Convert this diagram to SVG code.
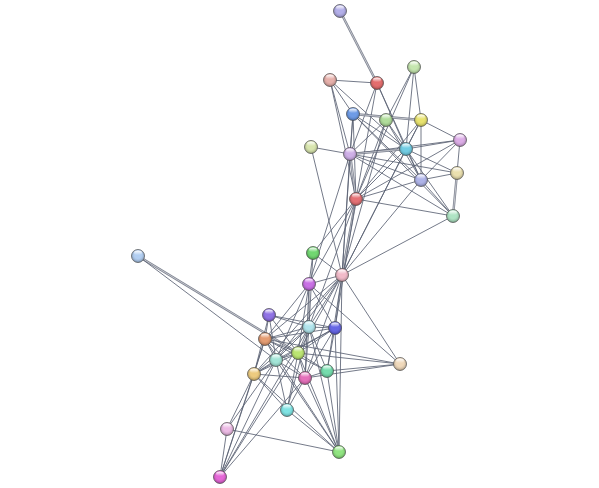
<svg xmlns="http://www.w3.org/2000/svg" xmlns:xlink="http://www.w3.org/1999/xlink" width="599" height="488" viewBox="0 0 599 488">
<style>
.e{stroke:#5c6374;stroke-width:1;stroke-opacity:0.85;fill:none}
.d{stroke:#5c6374;stroke-width:2.4;stroke-opacity:0.8;fill:none}
.di{stroke:#ffffff;stroke-width:0.6;stroke-opacity:0.9;fill:none}
</style>
<defs>
<radialGradient id="shade" cx="0.5" cy="0.42" r="0.58">
<stop offset="0.45" stop-color="#ffffff" stop-opacity="0.12"/>
<stop offset="1" stop-color="#000000" stop-opacity="0.3"/>
</radialGradient>
<linearGradient id="hl" x1="0" y1="0" x2="0" y2="1">
<stop offset="0" stop-color="#ffffff" stop-opacity="0.95"/>
<stop offset="1" stop-color="#ffffff" stop-opacity="0"/>
</linearGradient>
<g id="gloss">
<circle r="6.5" fill="url(#shade)" stroke="#4a4a4a" stroke-width="0.7"/>
<ellipse cy="-3.2" rx="4" ry="2.3" fill="url(#hl)"/>
</g>
</defs>
<rect width="599" height="488" fill="#ffffff"/>
<g id="connectors">
<path class="d" d="M340,11L377,83"/><path class="di" d="M340,11L377,83"/>
<line class="e" x1="330" y1="80" x2="377" y2="83"/>
<line class="e" x1="330" y1="80" x2="353" y2="114"/>
<line class="e" x1="330" y1="80" x2="350" y2="154"/>
<line class="e" x1="330" y1="80" x2="356" y2="199"/>
<line class="e" x1="330" y1="80" x2="406" y2="149"/>
<line class="e" x1="377" y1="83" x2="356" y2="199"/>
<line class="e" x1="377" y1="83" x2="406" y2="149"/>
<line class="e" x1="377" y1="83" x2="421" y2="180"/>
<line class="e" x1="377" y1="83" x2="350" y2="154"/>
<line class="e" x1="414" y1="67" x2="386" y2="120"/>
<line class="e" x1="414" y1="67" x2="421" y2="120"/>
<line class="e" x1="414" y1="67" x2="406" y2="149"/>
<line class="e" x1="414" y1="67" x2="356" y2="199"/>
<line class="d" x1="353" y1="114" x2="421" y2="120"/>
<line class="di" x1="353" y1="114" x2="421" y2="120"/>
<line class="e" x1="353" y1="114" x2="406" y2="149"/>
<line class="e" x1="353" y1="114" x2="350" y2="154"/>
<line class="e" x1="353" y1="114" x2="356" y2="199"/>
<line class="e" x1="353" y1="114" x2="453" y2="216"/>
<line class="e" x1="353" y1="114" x2="421" y2="180"/>
<line class="e" x1="386" y1="120" x2="406" y2="149"/>
<line class="e" x1="386" y1="120" x2="356" y2="199"/>
<line class="e" x1="386" y1="120" x2="421" y2="180"/>
<line class="e" x1="386" y1="120" x2="350" y2="154"/>
<line class="e" x1="421" y1="120" x2="406" y2="149"/>
<line class="e" x1="421" y1="120" x2="421" y2="180"/>
<line class="e" x1="421" y1="120" x2="356" y2="199"/>
<line class="e" x1="421" y1="120" x2="460" y2="140"/>
<line class="e" x1="460" y1="140" x2="406" y2="149"/>
<line class="e" x1="460" y1="140" x2="350" y2="154"/>
<line class="e" x1="460" y1="140" x2="421" y2="180"/>
<line class="e" x1="460" y1="140" x2="457" y2="173"/>
<line class="e" x1="460" y1="140" x2="356" y2="199"/>
<line class="e" x1="311" y1="147" x2="350" y2="154"/>
<line class="e" x1="311" y1="147" x2="342" y2="275"/>
<line class="d" x1="350" y1="154" x2="406" y2="149"/>
<line class="di" x1="350" y1="154" x2="406" y2="149"/>
<line class="e" x1="350" y1="154" x2="457" y2="173"/>
<line class="d" x1="350" y1="154" x2="356" y2="199"/>
<line class="di" x1="350" y1="154" x2="356" y2="199"/>
<line class="e" x1="350" y1="154" x2="453" y2="216"/>
<line class="e" x1="350" y1="154" x2="421" y2="180"/>
<line class="e" x1="406" y1="149" x2="421" y2="180"/>
<line class="e" x1="406" y1="149" x2="356" y2="199"/>
<line class="e" x1="406" y1="149" x2="457" y2="173"/>
<line class="e" x1="406" y1="149" x2="453" y2="216"/>
<line class="d" x1="457" y1="173" x2="453" y2="216"/>
<line class="di" x1="457" y1="173" x2="453" y2="216"/>
<line class="e" x1="457" y1="173" x2="421" y2="180"/>
<line class="e" x1="421" y1="180" x2="453" y2="216"/>
<line class="e" x1="421" y1="180" x2="356" y2="199"/>
<line class="e" x1="356" y1="199" x2="453" y2="216"/>
<line class="d" x1="342" y1="275" x2="356" y2="199"/>
<line class="di" x1="342" y1="275" x2="356" y2="199"/>
<line class="e" x1="342" y1="275" x2="350" y2="154"/>
<line class="e" x1="342" y1="275" x2="353" y2="114"/>
<line class="e" x1="342" y1="275" x2="386" y2="120"/>
<line class="e" x1="342" y1="275" x2="406" y2="149"/>
<line class="e" x1="342" y1="275" x2="421" y2="180"/>
<line class="e" x1="342" y1="275" x2="453" y2="216"/>
<line class="e" x1="342" y1="275" x2="421" y2="120"/>
<line class="e" x1="313" y1="253" x2="356" y2="199"/>
<line class="e" x1="309" y1="284" x2="356" y2="199"/>
<line class="e" x1="309" y1="284" x2="350" y2="154"/>
<line class="e" x1="309" y1="327" x2="356" y2="199"/>
<line class="e" x1="335" y1="328" x2="356" y2="199"/>
<line class="e" x1="313" y1="253" x2="309" y2="284"/>
<line class="e" x1="313" y1="253" x2="342" y2="275"/>
<line class="e" x1="313" y1="253" x2="309" y2="327"/>
<line class="e" x1="342" y1="275" x2="309" y2="284"/>
<line class="e" x1="342" y1="275" x2="309" y2="327"/>
<line class="e" x1="342" y1="275" x2="335" y2="328"/>
<line class="e" x1="342" y1="275" x2="265" y2="339"/>
<line class="e" x1="342" y1="275" x2="298" y2="353"/>
<line class="e" x1="342" y1="275" x2="276" y2="360"/>
<line class="e" x1="342" y1="275" x2="254" y2="374"/>
<line class="e" x1="342" y1="275" x2="305" y2="378"/>
<line class="e" x1="342" y1="275" x2="327" y2="371"/>
<line class="e" x1="342" y1="275" x2="400" y2="364"/>
<line class="e" x1="342" y1="275" x2="339" y2="452"/>
<line class="e" x1="309" y1="284" x2="309" y2="327"/>
<line class="e" x1="309" y1="284" x2="335" y2="328"/>
<line class="e" x1="309" y1="284" x2="265" y2="339"/>
<line class="e" x1="309" y1="284" x2="298" y2="353"/>
<line class="e" x1="309" y1="284" x2="276" y2="360"/>
<line class="e" x1="309" y1="284" x2="305" y2="378"/>
<line class="e" x1="309" y1="284" x2="400" y2="364"/>
<path class="d" d="M138,256L298,353"/><path class="di" d="M138,256L298,353"/>
<line class="e" x1="138" y1="256" x2="276" y2="360"/>
<line class="e" x1="269" y1="315" x2="265" y2="339"/>
<line class="e" x1="269" y1="315" x2="309" y2="327"/>
<line class="e" x1="269" y1="315" x2="335" y2="328"/>
<line class="e" x1="269" y1="315" x2="276" y2="360"/>
<line class="e" x1="269" y1="315" x2="254" y2="374"/>
<line class="e" x1="269" y1="315" x2="298" y2="353"/>
<line class="e" x1="309" y1="327" x2="335" y2="328"/>
<line class="e" x1="309" y1="327" x2="265" y2="339"/>
<line class="e" x1="309" y1="327" x2="298" y2="353"/>
<line class="e" x1="309" y1="327" x2="276" y2="360"/>
<line class="e" x1="309" y1="327" x2="254" y2="374"/>
<line class="e" x1="309" y1="327" x2="305" y2="378"/>
<line class="e" x1="309" y1="327" x2="327" y2="371"/>
<line class="e" x1="309" y1="327" x2="339" y2="452"/>
<line class="e" x1="309" y1="327" x2="287" y2="410"/>
<line class="e" x1="309" y1="327" x2="220" y2="477"/>
<line class="e" x1="335" y1="328" x2="265" y2="339"/>
<line class="e" x1="335" y1="328" x2="298" y2="353"/>
<line class="e" x1="335" y1="328" x2="276" y2="360"/>
<line class="e" x1="335" y1="328" x2="305" y2="378"/>
<line class="e" x1="335" y1="328" x2="327" y2="371"/>
<line class="e" x1="335" y1="328" x2="254" y2="374"/>
<line class="e" x1="335" y1="328" x2="339" y2="452"/>
<line class="e" x1="265" y1="339" x2="298" y2="353"/>
<line class="e" x1="265" y1="339" x2="276" y2="360"/>
<line class="e" x1="265" y1="339" x2="254" y2="374"/>
<line class="e" x1="265" y1="339" x2="305" y2="378"/>
<line class="e" x1="265" y1="339" x2="327" y2="371"/>
<line class="e" x1="265" y1="339" x2="400" y2="364"/>
<line class="e" x1="265" y1="339" x2="220" y2="477"/>
<line class="e" x1="265" y1="339" x2="339" y2="452"/>
<line class="e" x1="298" y1="353" x2="276" y2="360"/>
<line class="e" x1="298" y1="353" x2="254" y2="374"/>
<line class="e" x1="298" y1="353" x2="305" y2="378"/>
<line class="e" x1="298" y1="353" x2="327" y2="371"/>
<line class="e" x1="298" y1="353" x2="287" y2="410"/>
<line class="e" x1="298" y1="353" x2="220" y2="477"/>
<line class="e" x1="298" y1="353" x2="339" y2="452"/>
<line class="e" x1="298" y1="353" x2="400" y2="364"/>
<line class="e" x1="276" y1="360" x2="254" y2="374"/>
<line class="e" x1="276" y1="360" x2="305" y2="378"/>
<line class="e" x1="276" y1="360" x2="287" y2="410"/>
<line class="e" x1="276" y1="360" x2="227" y2="429"/>
<line class="e" x1="276" y1="360" x2="220" y2="477"/>
<line class="e" x1="276" y1="360" x2="339" y2="452"/>
<line class="e" x1="254" y1="374" x2="305" y2="378"/>
<line class="e" x1="254" y1="374" x2="287" y2="410"/>
<line class="e" x1="254" y1="374" x2="227" y2="429"/>
<line class="e" x1="254" y1="374" x2="220" y2="477"/>
<line class="e" x1="254" y1="374" x2="339" y2="452"/>
<line class="e" x1="305" y1="378" x2="327" y2="371"/>
<line class="e" x1="305" y1="378" x2="287" y2="410"/>
<line class="e" x1="305" y1="378" x2="339" y2="452"/>
<line class="e" x1="305" y1="378" x2="220" y2="477"/>
<line class="e" x1="305" y1="378" x2="400" y2="364"/>
<line class="e" x1="327" y1="371" x2="339" y2="452"/>
<line class="e" x1="327" y1="371" x2="400" y2="364"/>
<line class="e" x1="287" y1="410" x2="339" y2="452"/>
<line class="e" x1="227" y1="429" x2="339" y2="452"/>
<line class="e" x1="227" y1="429" x2="220" y2="477"/>
</g>
<g id="n-A" transform="translate(340,11)"><circle r="6.5" fill="#a9a4e6"/><use href="#gloss"/></g>
<g id="n-B" transform="translate(377,83)"><circle r="6.5" fill="#e05a5a"/><use href="#gloss"/></g>
<g id="n-C" transform="translate(330,80)"><circle r="6.5" fill="#e4a6a0"/><use href="#gloss"/></g>
<g id="n-D" transform="translate(414,67)"><circle r="6.5" fill="#bde3a4"/><use href="#gloss"/></g>
<g id="n-E" transform="translate(353,114)"><circle r="6.5" fill="#5a8ee4"/><use href="#gloss"/></g>
<g id="n-F" transform="translate(386,120)"><circle r="6.5" fill="#a6d98e"/><use href="#gloss"/></g>
<g id="n-G" transform="translate(421,120)"><circle r="6.5" fill="#e6e05c"/><use href="#gloss"/></g>
<g id="n-H" transform="translate(460,140)"><circle r="6.5" fill="#d8a2e4"/><use href="#gloss"/></g>
<g id="n-I" transform="translate(311,147)"><circle r="6.5" fill="#d4e3a4"/><use href="#gloss"/></g>
<g id="n-J" transform="translate(350,154)"><circle r="6.5" fill="#c8a4e4"/><use href="#gloss"/></g>
<g id="n-K" transform="translate(406,149)"><circle r="6.5" fill="#5ec6e0"/><use href="#gloss"/></g>
<g id="n-L" transform="translate(457,173)"><circle r="6.5" fill="#e8dca4"/><use href="#gloss"/></g>
<g id="n-M" transform="translate(421,180)"><circle r="6.5" fill="#a4aae6"/><use href="#gloss"/></g>
<g id="n-N" transform="translate(356,199)"><circle r="6.5" fill="#e25e62"/><use href="#gloss"/></g>
<g id="n-O" transform="translate(453,216)"><circle r="6.5" fill="#a4e0bc"/><use href="#gloss"/></g>
<g id="n-P" transform="translate(313,253)"><circle r="6.5" fill="#5ed25e"/><use href="#gloss"/></g>
<g id="n-Q" transform="translate(342,275)"><circle r="6.5" fill="#f0b2c2"/><use href="#gloss"/></g>
<g id="n-R" transform="translate(309,284)"><circle r="6.5" fill="#c25ee2"/><use href="#gloss"/></g>
<g id="n-S" transform="translate(138,256)"><circle r="6.5" fill="#a8c8f0"/><use href="#gloss"/></g>
<g id="n-T" transform="translate(269,315)"><circle r="6.5" fill="#8260e2"/><use href="#gloss"/></g>
<g id="n-U" transform="translate(309,327)"><circle r="6.5" fill="#a6e2ea"/><use href="#gloss"/></g>
<g id="n-V" transform="translate(335,328)"><circle r="6.5" fill="#5252e2"/><use href="#gloss"/></g>
<g id="n-W" transform="translate(265,339)"><circle r="6.5" fill="#e29060"/><use href="#gloss"/></g>
<g id="n-X" transform="translate(298,353)"><circle r="6.5" fill="#b2e25e"/><use href="#gloss"/></g>
<g id="n-Y" transform="translate(276,360)"><circle r="6.5" fill="#96e2d2"/><use href="#gloss"/></g>
<g id="n-Z" transform="translate(254,374)"><circle r="6.5" fill="#eac46e"/><use href="#gloss"/></g>
<g id="n-AA" transform="translate(305,378)"><circle r="6.5" fill="#e25eb2"/><use href="#gloss"/></g>
<g id="n-AB" transform="translate(327,371)"><circle r="6.5" fill="#62d8a2"/><use href="#gloss"/></g>
<g id="n-AC" transform="translate(400,364)"><circle r="6.5" fill="#eed4b2"/><use href="#gloss"/></g>
<g id="n-AD" transform="translate(287,410)"><circle r="6.5" fill="#6ee0e0"/><use href="#gloss"/></g>
<g id="n-AE" transform="translate(227,429)"><circle r="6.5" fill="#eab2e2"/><use href="#gloss"/></g>
<g id="n-AF" transform="translate(339,452)"><circle r="6.5" fill="#82e270"/><use href="#gloss"/></g>
<g id="n-AG" transform="translate(220,477)"><circle r="6.5" fill="#e252d2"/><use href="#gloss"/></g>
</svg>
